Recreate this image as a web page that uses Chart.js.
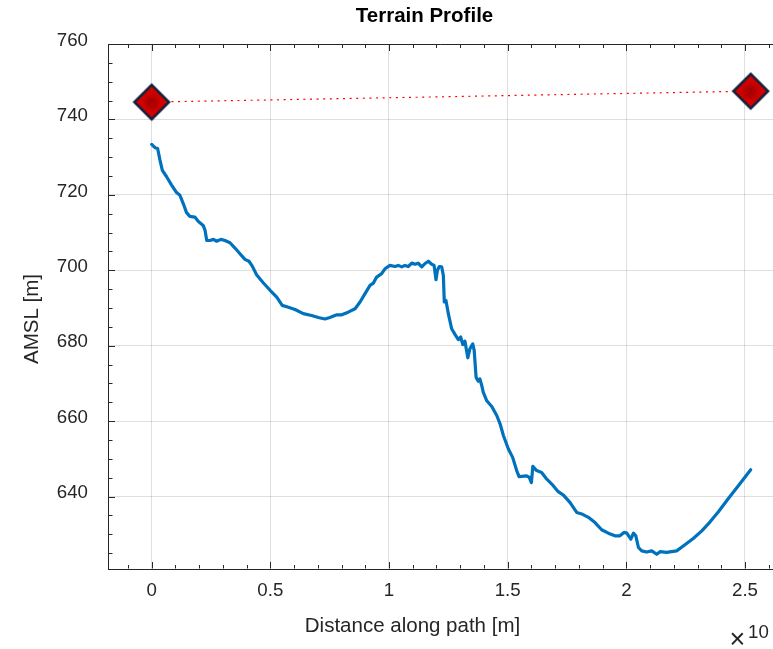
<!DOCTYPE html>
<html>
<head>
<meta charset="utf-8">
<title>Terrain Profile</title>
<script src="https://cdn.jsdelivr.net/npm/chart.js@4.4.1/dist/chart.umd.min.js"></script>
<style>
  html, body { margin: 0; padding: 0; background: #ffffff; overflow: hidden; }
  canvas { display: block; }
</style>
</head>
<body>
<canvas id="profile" width="773" height="649"></canvas>
<script>
// Distance along the path (units of 10^4 m) and ground elevation (m AMSL)
const distance = [
  0.000, 0.014, 0.025, 0.035, 0.045, 0.063, 0.084, 0.105, 0.119, 0.133,
  0.147, 0.161, 0.182, 0.196, 0.217, 0.225, 0.232, 0.246, 0.260, 0.274,
  0.292, 0.309, 0.330, 0.351, 0.372, 0.393, 0.410, 0.424, 0.442, 0.470,
  0.499, 0.527, 0.550, 0.576, 0.604, 0.639, 0.674, 0.702, 0.730, 0.751,
  0.780, 0.801, 0.828, 0.857, 0.878, 0.899, 0.920, 0.934, 0.948, 0.969,
  0.983, 1.004, 1.025, 1.039, 1.054, 1.067, 1.081, 1.096, 1.110, 1.123,
  1.138, 1.152, 1.166, 1.180, 1.190, 1.198, 1.204, 1.212, 1.222, 1.229,
  1.233, 1.240, 1.250, 1.264, 1.278, 1.292, 1.302, 1.311, 1.320, 1.332,
  1.341, 1.353, 1.359, 1.367, 1.376, 1.383, 1.391, 1.397, 1.412, 1.433,
  1.454, 1.468, 1.482, 1.503, 1.521, 1.538, 1.548, 1.580, 1.591, 1.600,
  1.606, 1.622, 1.643, 1.665, 1.692, 1.713, 1.735, 1.763, 1.791, 1.812,
  1.840, 1.868, 1.896, 1.924, 1.952, 1.973, 1.990, 2.002, 2.019, 2.030,
  2.040, 2.051, 2.065, 2.086, 2.107, 2.128, 2.142, 2.170, 2.191, 2.212,
  2.240, 2.282, 2.318, 2.353, 2.388, 2.430, 2.472, 2.524
];
const elevation = [
  733.4, 732.5, 732.3, 729.2, 726.5, 724.8, 722.6, 720.6, 719.9, 717.7,
  715.3, 714.3, 714.1, 713.0, 711.9, 710.6, 707.9, 707.9, 708.2, 707.7,
  708.2, 707.9, 707.3, 705.9, 704.4, 702.9, 702.4, 701.1, 698.8, 696.7,
  694.7, 692.9, 690.7, 690.2, 689.6, 688.5, 688.0, 687.5, 687.1, 687.5,
  688.2, 688.2, 688.9, 689.8, 691.6, 693.8, 696.0, 696.6, 698.2, 699.1,
  700.4, 701.3, 701.0, 701.3, 700.9, 701.3, 701.0, 701.9, 701.6, 701.9,
  700.9, 701.8, 702.4, 701.6, 701.3, 697.5, 700.0, 701.0, 700.9, 698.6,
  691.6, 692.0, 688.5, 684.5, 683.0, 681.6, 682.3, 680.3, 681.2, 676.8,
  679.2, 680.5, 678.7, 671.6, 670.6, 671.2, 669.4, 667.7, 665.4, 663.9,
  661.5, 659.3, 656.2, 652.6, 650.4, 646.9, 645.3, 645.5, 645.1, 643.7,
  648.0, 646.9, 646.4, 644.6, 642.9, 641.3, 640.4, 638.4, 635.8, 635.4,
  634.5, 633.1, 631.2, 630.3, 629.6, 629.6, 630.5, 630.3, 628.7, 630.3,
  629.6, 626.5, 625.6, 625.3, 625.6, 624.7, 625.4, 625.2, 625.4, 625.6,
  626.9, 628.9, 630.9, 633.3, 636.0, 639.5, 642.9, 647.1
];

// Antenna positions at both ends of the link (line of sight)
const endpointDistance = [0, 2.524];
const endpointHeight = [744.6, 747.5];

// Axis ticks
const xTicks = [0, 0.5, 1, 1.5, 2, 2.5];
const xTickLabels = ['0', '0.5', '1', '1.5', '2', '2.5'];
const yTicks = [640, 660, 680, 700, 720, 740, 760];
const yTickLabels = ['640', '660', '680', '700', '720', '740', '760'];
const xMinorStep = 0.1;
const yMinorStep = 5;
const xLimits = [-0.184, 2.618];
const yLimits = [620.8, 760];

const titleText = 'Terrain Profile';
const xLabelText = 'Distance along path [m]';
const yLabelText = 'AMSL [m]';
const exponentText = '10';

const AXIS = '#262626';
const FONT = '"Liberation Sans", Arial, Helvetica, sans-serif';

// Diamond marker with a shaded red fill and dark outline
function diamondMarker(r) {
  const size = 46;
  const c = size / 2;
  const cv = document.createElement('canvas');
  cv.width = size; cv.height = size;
  const g = cv.getContext('2d');
  const grad = g.createRadialGradient(c, c, 0, c, c, r);
  grad.addColorStop(0, '#9c0000');
  grad.addColorStop(0.6, '#d40000');
  grad.addColorStop(1, '#e60000');
  g.beginPath();
  g.moveTo(c - r, c);
  g.lineTo(c, c - r);
  g.lineTo(c + r, c);
  g.lineTo(c, c + r);
  g.closePath();
  g.fillStyle = grad;
  g.fill();
  g.lineWidth = 2.6;
  g.lineJoin = 'miter';
  g.strokeStyle = '#16213a';
  g.stroke();
  return cv;
}

// Box edges, inward tick marks and the text around the axes
const frame = {
  id: 'frame',
  beforeDatasetsDraw(chart) {
    const { ctx, chartArea: a, scales: { x, y } } = chart;
    const L = Math.round(a.left) + 0.5;
    const T = Math.round(a.top) + 0.5;
    const B = Math.round(a.bottom) - 0.5;
    ctx.save();
    ctx.strokeStyle = AXIS;
    ctx.lineWidth = 1;
    ctx.beginPath();
    ctx.moveTo(L, T); ctx.lineTo(a.right, T);
    // x ticks (bottom and top edges)
    for (let i = Math.ceil(xLimits[0] / xMinorStep); i <= Math.floor(xLimits[1] / xMinorStep); i++) {
      const v = i * xMinorStep;
      const major = i % 5 === 0;
      const len = major ? 6.5 : 3.5;
      const px = Math.round(x.getPixelForValue(v)) + 0.5;
      ctx.moveTo(px, B); ctx.lineTo(px, B - len);
      ctx.moveTo(px, T); ctx.lineTo(px, T + len);
    }
    // y ticks (left edge)
    for (let i = Math.ceil(yLimits[0] / yMinorStep); i <= Math.floor(yLimits[1] / yMinorStep); i++) {
      const v = i * yMinorStep;
      const major = v % 20 === 0;
      const len = major ? 6.5 : 4;
      const py = Math.round(y.getPixelForValue(v)) + 0.5;
      ctx.moveTo(L, py); ctx.lineTo(L + len, py);
    }
    ctx.stroke();
    ctx.restore();
  },
  afterDraw(chart) {
    const { ctx } = chart;
    ctx.save();
    ctx.fillStyle = '#000000';
    ctx.textAlign = 'center';
    ctx.textBaseline = 'alphabetic';
    ctx.font = 'bold 20.5px ' + FONT;
    ctx.fillText(titleText, 424.5, 22);

    ctx.fillStyle = AXIS;
    ctx.font = '20.5px ' + FONT;
    ctx.fillText(xLabelText, 412.5, 632);

    ctx.save();
    ctx.translate(37.5, 319);
    ctx.rotate(-Math.PI / 2);
    ctx.fillText(yLabelText, 0, 0);
    ctx.restore();

    ctx.font = '27px ' + FONT;
    ctx.textBaseline = 'middle';
    ctx.fillText('\u00d7', 737.5, 641);
    ctx.font = '18.7px ' + FONT;
    ctx.textAlign = 'left';
    ctx.textBaseline = 'alphabetic';
    ctx.fillText(exponentText, 748, 638.3);
    ctx.restore();
  }
};

const terrain = distance.map((d, i) => ({ x: d, y: elevation[i] }));
const endpoints = endpointDistance.map((d, i) => ({ x: d, y: endpointHeight[i] }));

new Chart(document.getElementById('profile'), {
  type: 'line',
  data: {
    datasets: [
      {
        label: 'Line of sight',
        data: endpoints,
        showLine: true,
        borderColor: '#ff0000',
        borderWidth: 1.2,
        borderDash: [2, 4.6],
        pointStyle: diamondMarker(17.2),
        pointRadius: 19,
        pointHoverRadius: 19,
        clip: false,
        order: 0
      },
      {
        label: 'Terrain',
        data: terrain,
        borderColor: '#0072BD',
        borderWidth: 3.2,
        pointRadius: 0,
        pointHoverRadius: 0,
        tension: 0,
        borderJoinStyle: 'round',
        borderCapStyle: 'round',
        order: 1
      }
    ]
  },
  options: {
    responsive: false,
    animation: false,
    devicePixelRatio: 1,
    events: [],
    layout: { autoPadding: false, padding: { top: 44, left: 0, right: 0, bottom: 0 } },
    plugins: {
      legend: { display: false },
      title: { display: false },
      tooltip: { enabled: false }
    },
    scales: {
      x: {
        type: 'linear',
        min: xLimits[0],
        max: xLimits[1],
        afterFit(s) {
          s.height = 80;
          s.paddingLeft = 0;
          s.paddingRight = 0;
        },
        afterBuildTicks(s) { s.ticks = xTicks.map(v => ({ value: v })); },
        grid: { color: 'rgba(38,38,38,0.15)', lineWidth: 1, drawTicks: false },
        border: { color: AXIS, width: 1 },
        ticks: {
          padding: 11,
          maxRotation: 0,
          autoSkip: false,
          color: AXIS,
          font: { family: FONT, size: 18.7 },
          callback: (v) => xTickLabels[xTicks.indexOf(v)]
        }
      },
      y: {
        type: 'linear',
        min: yLimits[0],
        max: yLimits[1],
        afterFit(s) {
          s.width = 108;
          s.paddingTop = 0;
          s.paddingBottom = 0;
        },
        afterBuildTicks(s) { s.ticks = yTicks.map(v => ({ value: v })); },
        grid: { color: 'rgba(38,38,38,0.15)', lineWidth: 1, drawTicks: false },
        border: { color: AXIS, width: 1 },
        ticks: {
          padding: 20,
          labelOffset: -3.5,
          autoSkip: false,
          color: AXIS,
          font: { family: FONT, size: 18.7 },
          callback: (v) => yTickLabels[yTicks.indexOf(v)]
        }
      }
    }
  },
  plugins: [frame]
});
</script>
</body>
</html>
